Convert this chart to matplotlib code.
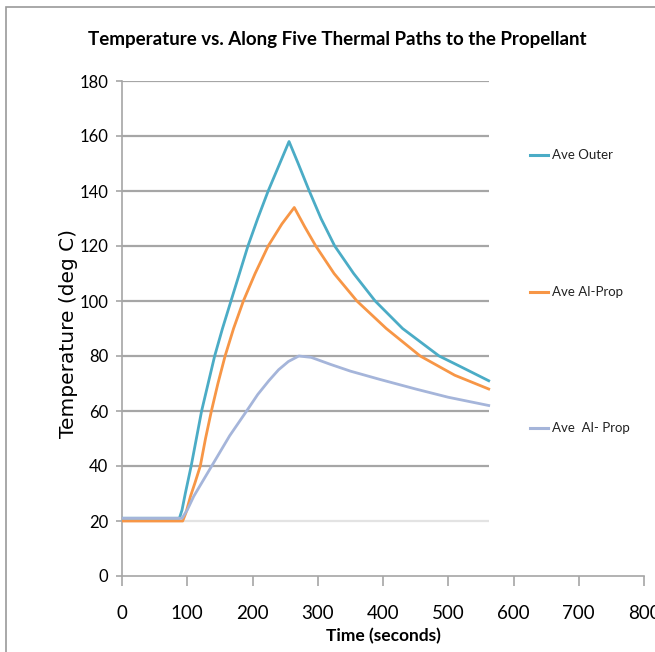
import matplotlib.pyplot as plt
from matplotlib.lines import Line2D
from matplotlib.patches import Rectangle

# dados
t_outer = [0, 40, 88, 92, 97, 106, 114, 122, 132, 142, 154, 167, 180, 193, 208, 224, 240, 256,
           270, 287, 305, 326, 355, 388, 430, 486, 520, 562]
v_outer = [21, 21, 21, 24, 30, 40, 50, 60, 70, 80, 90, 100, 110, 120, 130, 140, 149, 158,
           150, 140, 130, 120, 110, 100, 90, 80, 76, 71]

t_alprop = [0, 50, 93, 98, 105, 112, 120, 128, 137, 147, 158, 171, 186, 204, 224, 245, 264,
            280, 297, 325, 360, 405, 457, 510, 562]
v_alprop = [20, 20, 20, 23, 29, 34, 40, 50, 60, 70, 80, 90, 100, 110, 120, 128, 134,
            127, 120, 110, 100, 90, 80, 73, 68]

t_alprop2 = [0, 50, 92, 100, 110, 125, 140, 165, 191, 208, 225, 240, 255, 271, 290, 319,
             350, 395, 450, 500, 562]
v_alprop2 = [21, 21, 21, 24, 29, 35, 41, 51, 60, 66, 71, 75, 78, 80, 79.5, 77, 74.5, 71.5,
             68, 65, 62]

labels = ["Ave Outer", "Ave Al-Prop", "Ave  Al- Prop"]
cores = ["#4BACC6", "#F79646", "#A5B5DA"]

x_ticks = list(range(0, 801, 100))
y_ticks = list(range(0, 181, 20))

fonte = "Lato"

fig = plt.figure(figsize=(6.55, 6.52), dpi=100)
fig.add_artist(Rectangle((0.009, -0.01), 1.0, 1.0, transform=fig.transFigure,
                         fill=False, edgecolor="#9a9a9a", lw=1.2))

ax = fig.add_axes([122 / 655, 1 - 576 / 652, 522 / 655, 495 / 652])
ax.set_xlim(0, 800)
ax.set_ylim(0, 180)

# grade so ate o fim dos dados
for y in y_ticks[1:]:
    cor = "#e3e3e3" if y == 20 else "#a6a6a6"
    ax.hlines(y, 0, 562, color=cor, lw=1.6, zorder=1)

series = [(t_outer, v_outer), (t_alprop, v_alprop), (t_alprop2, v_alprop2)]
for (t, v), c in zip(series, cores):
    ax.plot(t, v, color=c, lw=2, zorder=3)

for s in ["top", "right"]:
    ax.spines[s].set_visible(False)
for s in ["left", "bottom"]:
    ax.spines[s].set_color("#a6a6a6")
    ax.spines[s].set_linewidth(1.2)

ax.set_xticks(x_ticks)
ax.set_yticks(y_ticks)
ax.tick_params(axis="x", length=7, color="#a6a6a6", width=1.2, pad=14,
               labelsize=13.5)
ax.tick_params(axis="y", length=4, color="#a6a6a6", width=1.2, pad=6,
               labelsize=12)
for lab in ax.get_xticklabels() + ax.get_yticklabels():
    lab.set_family(fonte)

ax.set_xlabel("Time (seconds)", fontsize=12.5, fontweight="bold",
              family=fonte, labelpad=4)
fig.text(68 / 655, 1 - 334 / 652, "Temperature (deg C)", rotation=90,
         ha="center", va="center", fontsize=14.5, family="DejaVu Sans")

fig.text(337 / 655, 1 - 40 / 652,
         "Temperature vs. Along Five Thermal Paths to the Propellant",
         ha="center", va="center", fontsize=13.5, fontweight="bold",
         family=fonte)

# legenda manual
for lab, c, ypix in zip(labels, cores, [155, 292, 428]):
    yf = 1 - ypix / 652
    fig.add_artist(Line2D([530 / 655, 548 / 655], [yf, yf], color=c, lw=2.2,
                          transform=fig.transFigure))
    fig.text(552 / 655, yf, lab, ha="left", va="center", fontsize=9.5,
             family=fonte, color="#222222")

plt.savefig("out.png", dpi=100)
